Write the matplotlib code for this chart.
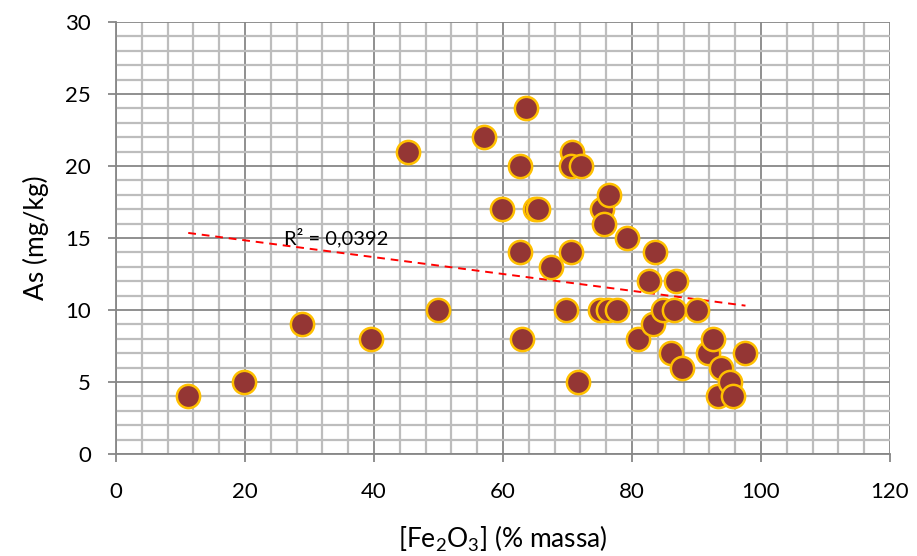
import numpy as np
import matplotlib
matplotlib.use('Agg')
import matplotlib.pyplot as plt
from matplotlib.ticker import MultipleLocator

plt.rcParams['font.family'] = ['Lato', 'DejaVu Sans']
plt.rcParams['mathtext.default'] = 'regular'

# dados
fe2o3 = [11.2, 19.9, 28.9, 39.5, 45.3, 49.9, 57.1, 59.8, 62.7, 63.6,
         62.7, 62.9, 65.0, 65.5, 67.5, 69.8, 70.5, 70.7, 70.5, 72.1,
         71.6, 75.0, 76.3, 77.7, 75.4, 75.7, 76.4, 79.3, 80.9, 82.6,
         83.2, 83.5, 84.8, 86.5, 86.1, 86.8, 87.8, 90.1, 91.8, 92.5,
         93.4, 93.8, 95.2, 95.6, 97.6]
arsenio = [4, 5, 9, 8, 21, 10, 22, 17, 20, 24,
           14, 8, 17, 17, 13, 10, 14, 21, 20, 20,
           5, 10, 10, 10, 17, 16, 18, 15, 8, 12,
           9, 14, 10, 10, 7, 12, 6, 10, 7, 8,
           4, 6, 5, 4, 7]
# linha de tendência (extremos)
tend_x = [11.2, 97.6]
tend_y = [15.35, 10.3]
r2_label = 'R² = 0,0392'

fig = plt.figure(figsize=(9.17, 5.56), dpi=100)
ax = fig.add_axes([0.1265, 0.1835, 0.844, 0.777])

ax.scatter(fe2o3, arsenio, s=280, c='#943634', edgecolors='#FFC000', linewidths=1.8, zorder=3)

ax.plot(tend_x, tend_y, color='#FF0000', linestyle=(0, (4, 3)), linewidth=1.4, zorder=2)
ax.text(26, 15.0, r2_label, fontsize=14.5, va='center', ha='left', zorder=4)

ax.set_xlim(0, 120)
ax.set_ylim(0, 30)
ax.xaxis.set_major_locator(MultipleLocator(20))
ax.xaxis.set_minor_locator(MultipleLocator(4))
ax.yaxis.set_major_locator(MultipleLocator(5))
ax.yaxis.set_minor_locator(MultipleLocator(1))

ax.grid(which='major', color='#878787', linewidth=1.3, zorder=0)
ax.grid(which='minor', color='#BDBDBD', linewidth=1.6, zorder=0)
ax.set_axisbelow(True)

for s in ['top', 'right']:
    ax.spines[s].set_visible(False)
for s in ['left', 'bottom']:
    ax.spines[s].set_color('#878787')
    ax.spines[s].set_linewidth(1.3)

ax.tick_params(which='major', length=6, width=1.3, color='#878787', labelsize=16)
ax.tick_params(axis='y', which='major', pad=12)
ax.tick_params(axis='x', which='major', pad=14)
ax.tick_params(which='minor', length=0)

ax.set_xlabel('[Fe$_2$O$_3$] (% massa)', fontsize=19, labelpad=16)
ax.set_ylabel('As (mg/kg)', fontsize=19, labelpad=12)

plt.savefig('out.png', dpi=100)
